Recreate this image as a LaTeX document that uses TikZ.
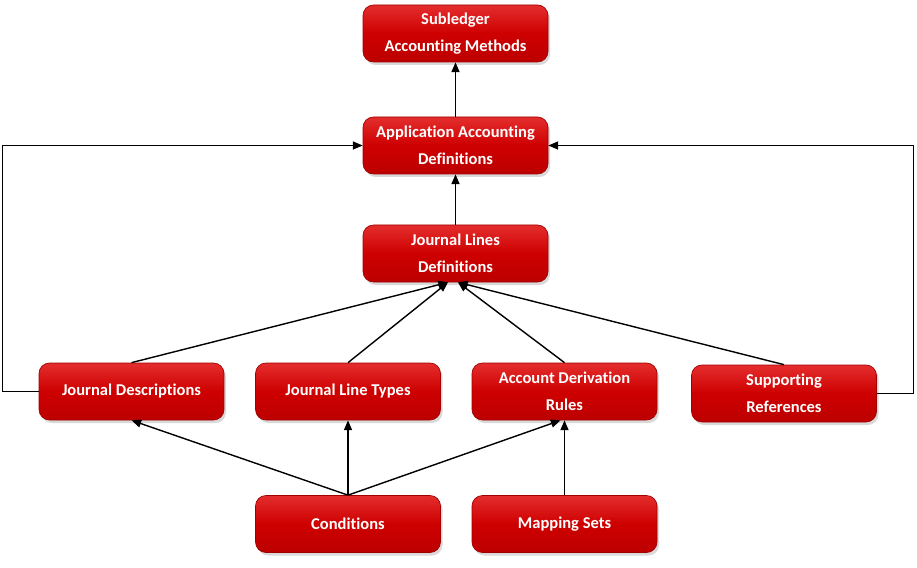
\documentclass[tikz,border=0pt]{standalone}
\usepackage{fontspec}
\setmainfont[Ligatures=NoCommon]{Carlito}
\usepackage{tikz}
\usetikzlibrary{arrows.meta, positioning, shadows}
\definecolor{boxtop}{RGB}{228,45,45}
\definecolor{boxmid}{RGB}{206,0,0}
\definecolor{boxbot}{RGB}{188,0,0}
\definecolor{boxline}{RGB}{160,0,0}

\begin{document}
\begin{tikzpicture}[
    normal/.style={rectangle, rounded corners=6pt, draw=boxline, line width=0.4pt,
      top color=boxtop, bottom color=boxbot, middle color=boxmid,
      minimum width=3.7cm, minimum height=1.14cm, align=center, text=white,
      font=\fontsize{9.4}{15.5}\selectfont\bfseries,
      drop shadow={opacity=0.3, shadow xshift=0.04cm, shadow yshift=-0.06cm}},
    link/.style={draw, line width=0.8pt, -{Triangle[length=5.5pt, width=4.5pt]}}
  ]
  \useasboundingbox (0,0) rectangle (18.34,11.34);
  \node[normal] (A) at (9.11,10.67) {Subledger \\ Accounting Methods};
  \node[normal] (B) at (9.11,8.43) {Application Accounting \\ Definitions};
  \node[normal] (C) at (9.11,6.27) {Journal Lines \\ Definitions};
  \node[normal] (D) at (2.63,3.51) {Journal Descriptions};
  \node[normal] (E) at (6.96,3.51) {Journal Line Types};
  \node[normal] (F) at (11.29,3.51) {Account Derivation \\ Rules};
  \node[normal] (G) at (15.68,3.47) {Supporting \\ References};
  \node[normal] (H) at (6.96,0.86) {Conditions};
  \node[normal] (I) at (11.29,0.86) {Mapping Sets};

  \draw[link] (B) -- (A);
  \draw[link] (C) -- (B);
  \draw[link] (D.north) -- ([xshift=-0.15cm]C.south);
  \draw[link] (E.north) -- ([xshift=-0.15cm]C.south);
  \draw[link] (F.north) -- ([xshift=0.05cm]C.south);
  \draw[link] (G.north) -- ([xshift=0.05cm]C.south);
  \draw[link] (D.west) -- ++(-0.72,0) |- (B.west);
  \draw[link] (G.east) -- ++(0.73,0) |- (B.east);
  \draw[link] (H.north) -- (D.south);
  \draw[link] (H.north) -- (E.south);
  \draw[link] (H.north) -- ([xshift=-0.08cm]F.south);
  \draw[link] (I) -- (F);
\end{tikzpicture}
\end{document}
